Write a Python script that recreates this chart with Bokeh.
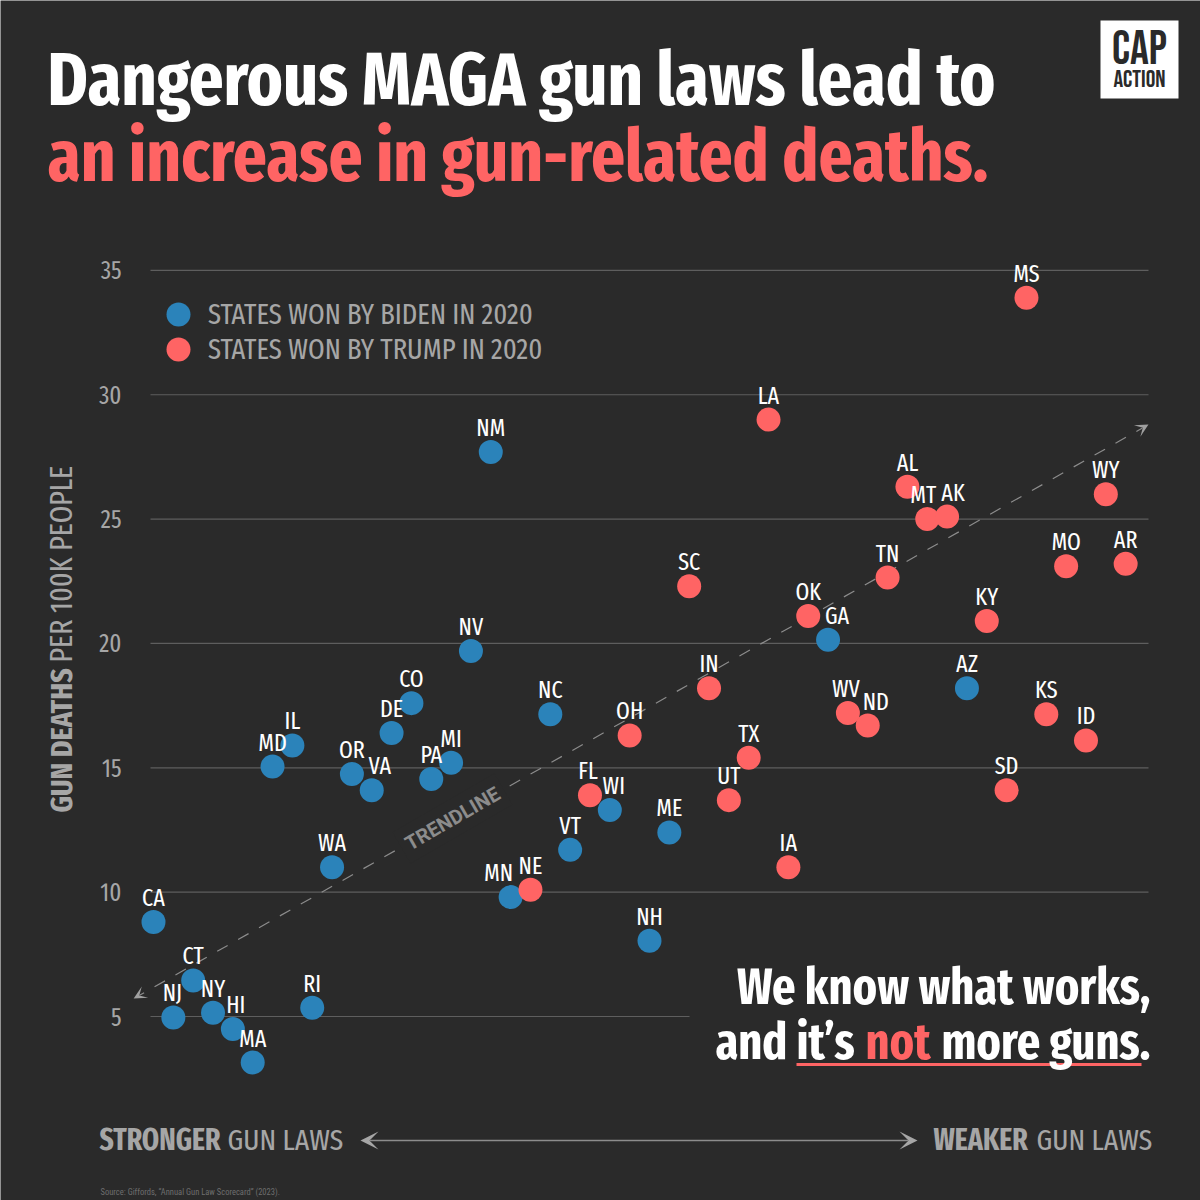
import math
from bokeh.core.properties import value
from bokeh.embed import file_html
from bokeh.resources import INLINE
from bokeh.plotting import figure
from bokeh.models import (Range1d, LinearAxis, FixedTicker, Label, Arrow, VeeHead,
                          BoxAnnotation, ColumnDataSource, Legend, LegendItem)

# ---------- data ----------
states = ["CA","NJ","CT","NY","HI","MA","MD","IL","RI","WA","OR","VA","DE","CO","PA","MI","NV","NM","MN","NE",
          "NC","VT","FL","WI","OH","NH","ME","SC","IN","UT","TX","LA","IA","OK","GA","WV","ND","TN","AL","MT",
          "AK","AZ","KY","SD","MS","KS","MO","ID","WY","AR"]
deaths = [8.8,4.96,6.45,5.15,4.5,3.15,15.05,15.9,5.35,11.0,14.75,14.1,16.4,17.6,14.55,15.2,19.7,27.7,9.8,10.1,
          17.15,11.7,13.9,13.3,16.3,8.05,12.4,22.3,18.2,13.7,15.4,29.0,11.0,21.1,20.15,17.2,16.7,22.65,26.3,25.0,
          25.1,18.2,20.9,14.1,33.9,17.15,23.1,16.1,26.0,23.2]
biden = {"CA","NJ","CT","NY","HI","MA","MD","IL","RI","WA","OR","VA","DE","CO","PA","MI","NV","NM","MN",
         "NC","VT","WI","NH","ME","GA","AZ"}
y_ticks = [5,10,15,20,25,30,35]
trend_rank = [0.0, 51.15]
trend_deaths = [5.72, 28.8]

# ---------- style ----------
BG="#2a2a2a"; RED="#ff6464"; BLUE="#2b83ba"; GREY="#a6a6a6"; WHITE="#ffffff"; FONT="Fira Sans Extra Condensed"
label_dx = {"HI":3,"MN":-12,"FL":-2,"WI":4,"VA":8,"GA":9,"ND":8,"WV":-2,"AK":6,"MT":-4,"NJ":-1}

def px(x): return 1+(x-153)/19.84
def py(y): return 5+(1016-y)/24.87

p = figure(width=1200, height=1200, output_backend="svg", toolbar_location=None,
           x_range=Range1d(px(0),px(1200)), y_range=Range1d(py(1200),py(0)),
           x_axis_location=None, y_axis_location=None, min_border=0,
           background_fill_color=BG, border_fill_color=BG, outline_line_color=None)
p.grid.visible=False

# y axis
ax = LinearAxis(ticker=FixedTicker(ticks=y_ticks), fixed_location=px(131), axis_line_color=None,
                major_tick_line_color=None, minor_tick_line_color=None, major_label_standoff=4,
                major_label_text_font=FONT, major_label_text_font_size="25px", major_label_text_color=GREY)
p.add_layout(ax,"left")

# gridlines
p.segment(x0=[px(150)]*6, x1=[px(1148)]*6, y0=y_ticks[1:], y1=y_ticks[1:], line_color="#5e5e5e", line_width=1.2, level="underlay")
p.segment(x0=[px(150)], x1=[px(689)], y0=[5], y1=[5], line_color="#5e5e5e", line_width=1.2, level="underlay")

# trendline
tl = Arrow(x_start=trend_rank[0], y_start=trend_deaths[0], x_end=trend_rank[1], y_end=trend_deaths[1],
           line_color="#8c8c8c", line_width=1.2, line_dash=[12,12], level="underlay",
           start=VeeHead(size=13, fill_color="#a0a0a0", line_color=None),
           end=VeeHead(size=13, fill_color="#a0a0a0", line_color=None))
p.add_layout(tl)

# points
rank = list(range(1,len(states)+1))
def src(keep):
    idx=[i for i,s in enumerate(states) if keep(s)]
    return ColumnDataSource(dict(x=[rank[i] for i in idx], y=[deaths[i] for i in idx], s=[states[i] for i in idx]))
r_b = p.scatter("x","y",source=src(lambda s:s in biden),size=24,color=BLUE,line_color=None)
r_t = p.scatter("x","y",source=src(lambda s:s not in biden),size=24,color=RED,line_color=None)

def leg(label, rend, loc):
    p.add_layout(Legend(items=[LegendItem(label=label,renderers=[rend])],location=loc,background_fill_alpha=0,
                        border_line_color=None,padding=0,margin=0,glyph_width=60,glyph_height=60,label_standoff=-4,
                        label_text_font=FONT,label_text_font_size="29px",label_text_color=GREY,label_height=60))
leg("STATES WON BY BIDEN IN 2020", r_b, (148,856))
leg("STATES WON BY TRUMP IN 2020", r_t, (148,821))

# state labels
lab = ColumnDataSource(dict(x=rank,y=deaths,t=states,dx=[label_dx.get(s,0) for s in states]))
p.text("x","y",text="t",source=lab,x_offset="dx",y_offset=-24,text_align="center",text_baseline="middle",
       text_font=value(FONT),text_font_size="24px",text_color=WHITE)

def T(text,x,y,size,color,bold=False,align="left",base="alphabetic",angle=0,font=FONT,**kw):
    if base=="alphabetic":
        shift=0.33*size
        x-=shift*math.sin(angle); y-=shift*math.cos(angle)
    p.add_layout(Label(x=px(x),y=py(y),text=text,text_font=font,text_font_size=f"{size}px",text_color=color,
                       text_font_style="bold" if bold else "normal",text_align=align,text_baseline=base,angle=angle,**kw))

# title
T("Dangerous MAGA gun laws lead to",47,104,74,WHITE,True)
T("an increase in gun-related deaths.",47,180,72.5,RED,True)

# logo
p.add_layout(BoxAnnotation(left=px(1100),right=px(1178),top=py(20),bottom=py(98),fill_color=WHITE,fill_alpha=1,line_color=None,level="annotation"))
T("CAP",1139,65,47,BG,False,"center",font="Bebas Neue")
T("ACTION",1139,87,24,BG,False,"center",font="Bebas Neue")

# y title
T("GUN DEATHS",71,812,30.5,GREY,True,angle=math.pi/2)
T("PER 100K PEOPLE",71,662,30.5,GREY,angle=math.pi/2)

# trendline label
T("TRENDLINE",452,818,20,"#8c8c8c",True,"center","middle",angle=math.radians(30),font="Roboto",
  background_fill_color=BG,padding=6)

# callout
p.segment(x0=[px(796)],x1=[px(1141)],y0=[py(1064)],y1=[py(1064)],line_color=RED,line_width=3)
T("We know what works,",1150,1003,50,WHITE,True,"right")
T("and it\u2019s",715,1058,50,WHITE,True)
T("not",865,1058,50,RED,True)
T("more guns.",1150,1058,50,WHITE,True,"right")

# bottom axis captions
T("STRONGER",99,1149,30,GREY,True)
T("GUN LAWS",227,1149,30,GREY)
T("WEAKER",933,1149,30,GREY,True)
T("GUN LAWS",1036,1149,30,GREY)
h = lambda: VeeHead(size=18, fill_color=GREY, line_color=None)
p.add_layout(Arrow(x_start=px(360),y_start=py(1140),x_end=px(917),y_end=py(1140),line_color="#8c8c8c",line_width=1.5,start=h(),end=h()))
T("Source: Giffords, \u201cAnnual Gun Law Scorecard\u201d (2023).",100,1191,8.5,"#6e6e6e",base="middle",font="Roboto Condensed")

open("out.html","w").write(file_html(p, INLINE))
